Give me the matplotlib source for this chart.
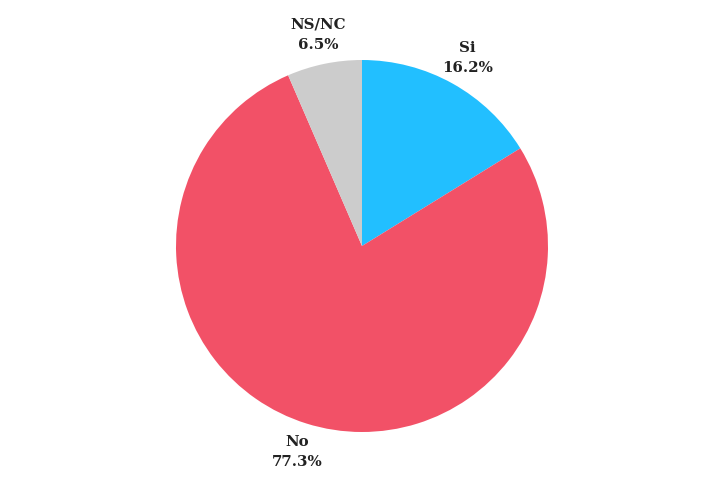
import matplotlib
matplotlib.use("Agg")
import matplotlib.pyplot as plt

labels = ["Si", "No", "NS/NC"]
values = [16.2, 77.3, 6.5]
colors = ["#22bfff", "#f25167", "#cccccc"]

W, H = 721, 497
fig = plt.figure(figsize=(W / 100, H / 100), dpi=100)
ax = fig.add_axes([0, 0, 1, 1])

texts = [f"{l}\n{v:.1f}%" for l, v in zip(labels, values)]
wedges, txts = ax.pie(values, colors=colors, startangle=90, counterclock=False,
                      labels=texts, labeldistance=1.16,
                      textprops=dict(family="DejaVu Serif", fontweight="bold",
                                     fontsize=10.8, color="#222222",
                                     ha="center", va="center", linespacing=1.55))

cx, cy, r = 362, 497 - 246, 186
ax.set_xlim(-cx / r, (W - cx) / r)
ax.set_ylim(-cy / r, (H - cy) / r)
ax.set_aspect("equal", adjustable="datalim")
ax.axis("off")
fig.savefig("out.png", dpi=100)
